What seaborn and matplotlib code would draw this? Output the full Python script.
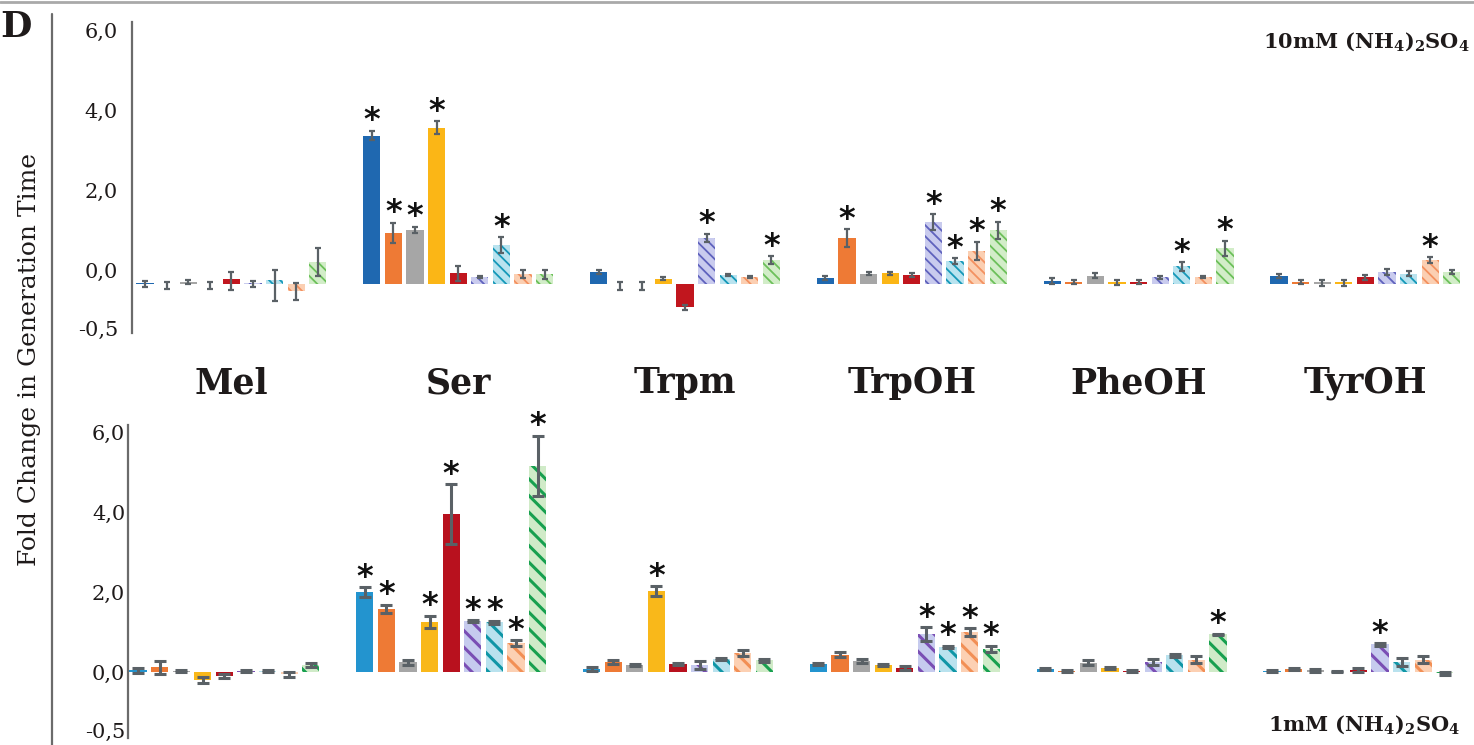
import numpy as np
import pandas as pd
import matplotlib
matplotlib.use("Agg")
import matplotlib.pyplot as plt
import seaborn as sns
from matplotlib.lines import Line2D
from matplotlib.transforms import blended_transform_factory

# ---------------------------------------------------------------- data
groups = ["Mel", "Ser", "Trpm", "TrpOH", "PheOH", "TyrOH"]
series = ["S1", "S2", "S3", "S4", "S5", "S6", "S7", "S8", "S9"]
ytick_values = [6.0, 4.0, 2.0, 0.0, -0.5]
ytick_labels = ["6,0", "4,0", "2,0", "0,0", "-0,5"]

# 10 mM (NH4)2SO4 : mean fold change, error and significance per group
top_means = [
    [0.02, 0.01, 0.05, 0.01, 0.12, 0.02, 0.10, -0.06, 0.56],
    [3.71, 1.28, 1.35, 3.91, 0.27, 0.18, 0.97, 0.24, 0.24],
    [0.30, 0.00, 0.00, 0.13, -0.20, 1.16, 0.22, 0.18, 0.60],
    [0.15, 1.15, 0.26, 0.27, 0.23, 1.55, 0.57, 0.83, 1.34],
    [0.07, 0.05, 0.21, 0.04, 0.05, 0.17, 0.44, 0.18, 0.89],
    [0.20, 0.05, 0.04, 0.04, 0.17, 0.30, 0.26, 0.60, 0.30],
]
top_errs = [
    [0.05, 0.05, 0.05, 0.05, 0.17, 0.05, 0.25, 0.08, 0.35],
    [0.12, 0.25, 0.08, 0.16, 0.19, 0.03, 0.20, 0.10, 0.11],
    [0.05, 0.05, 0.05, 0.04, 0.02, 0.10, 0.03, 0.03, 0.10],
    [0.04, 0.22, 0.04, 0.04, 0.05, 0.20, 0.075, 0.23, 0.22],
    [0.07, 0.05, 0.07, 0.05, 0.05, 0.04, 0.11, 0.03, 0.19],
    [0.04, 0.05, 0.06, 0.06, 0.06, 0.08, 0.06, 0.07, 0.04],
]
top_stars = [
    [0, 0, 0, 0, 0, 0, 0, 0, 0],
    [1, 1, 1, 1, 0, 0, 1, 0, 0],
    [0, 0, 0, 0, 0, 1, 0, 0, 1],
    [0, 1, 0, 0, 0, 1, 1, 1, 1],
    [0, 0, 0, 0, 0, 0, 1, 0, 1],
    [0, 0, 0, 0, 0, 0, 0, 1, 0],
]

# 1 mM (NH4)2SO4
bottom_means = [
    [0.04, 0.13, 0.02, -0.07, -0.035, 0.02, 0.02, -0.02, 0.17],
    [2.00, 1.58, 0.24, 1.26, 3.94, 1.27, 1.24, 0.72, 5.15],
    [0.07, 0.26, 0.17, 2.02, 0.20, 0.18, 0.33, 0.48, 0.29],
    [0.20, 0.43, 0.27, 0.17, 0.10, 0.95, 0.63, 1.00, 0.58],
    [0.08, 0.02, 0.23, 0.10, 0.03, 0.25, 0.42, 0.31, 0.94],
    [0.03, 0.08, 0.04, 0.01, 0.05, 0.69, 0.26, 0.31, -0.01],
]
bottom_errs = [
    [0.05, 0.15, 0.02, 0.025, 0.02, 0.02, 0.02, 0.02, 0.05],
    [0.12, 0.10, 0.07, 0.15, 0.75, 0.02, 0.04, 0.08, 0.76],
    [0.05, 0.05, 0.03, 0.12, 0.03, 0.10, 0.03, 0.07, 0.03],
    [0.03, 0.06, 0.05, 0.02, 0.04, 0.17, 0.03, 0.10, 0.08],
    [0.03, 0.02, 0.06, 0.03, 0.02, 0.08, 0.04, 0.09, 0.02],
    [0.02, 0.03, 0.04, 0.01, 0.05, 0.03, 0.10, 0.09, 0.02],
]
bottom_stars = [
    [0, 0, 0, 0, 0, 0, 0, 0, 0],
    [1, 1, 0, 1, 1, 1, 1, 1, 1],
    [0, 0, 0, 1, 0, 0, 0, 0, 0],
    [0, 0, 0, 0, 0, 1, 1, 1, 1],
    [0, 0, 0, 0, 0, 0, 0, 0, 1],
    [0, 0, 0, 0, 0, 1, 0, 0, 0],
]

# ---------------------------------------------------------------- styles
top_fill = ["#1f68b0", "#ee7a35", "#a6a6a6", "#fbb616", "#c1161e",
            "#c9cbee", "#b9e3ef", "#fbcfb2", "#d2edc8"]
top_stripe = [None, None, None, None, None,
              "#5f62bd", "#1598b8", "#f39160", "#6cc05a"]
bottom_fill = ["#2394cf", "#ee7a35", "#a6a6a6", "#f9b81a", "#b8111e",
               "#c6cbee", "#b9e2ee", "#fcd0b3", "#d0ebc8"]
bottom_stripe = [None, None, None, None, None,
                 "#7a4eb4", "#0f96a6", "#f28f55", "#17a04f"]

W, H = 1474, 745
GROUP_STEP = 10.5
NEG_STRETCH = 2.9
ERR_COLOR = "#5a6166"
SPINE_COLOR = "#6b6b6b"
TEXT_COLOR = "#1e1a1a"

sns.set_style("white")
plt.rcParams["font.family"] = ["DejaVu Serif"]
plt.rcParams["mathtext.fontset"] = "dejavuserif"


def fwd(y):
    y = np.asarray(y, dtype=float)
    return np.where(y >= 0, y, y * NEG_STRETCH)


def inv(y):
    y = np.asarray(y, dtype=float)
    return np.where(y >= 0, y, y / NEG_STRETCH)


def box(left, top, right, bottom):
    return [left / W, 1 - bottom / H, (right - left) / W, (bottom - top) / H]


def style_y_axis(ax, ylim, pad):
    ax.set_yscale("function", functions=(fwd, inv))
    ax.set_ylim(*ylim)
    ax.set_yticks(ytick_values)
    ax.set_yticklabels(ytick_labels)
    ax.tick_params(axis="y", length=0, pad=pad, labelsize=15, labelcolor=TEXT_COLOR)
    ax.set_xticks([])
    for side in ["top", "right", "bottom"]:
        ax.spines[side].set_visible(False)
    ax.spines["left"].set_color(SPINE_COLOR)
    ax.spines["left"].set_linewidth(1.6)
    ax.set_facecolor("none")


def draw_bars(ax, means, errs, stars, fills, stripes, hatch, hatch_lw,
              err_lw, capsize, xlim, ylim):
    rows = []
    for gi, g in enumerate(groups):
        for si, s in enumerate(series):
            rows.append(dict(group=g, series=s, pos=gi * GROUP_STEP + si,
                             value=means[gi][si], err=errs[gi][si],
                             star=stars[gi][si]))
    df = pd.DataFrame(rows)
    palette = dict(zip(series, fills))
    sns.barplot(data=df, x="pos", y="value", hue="series", hue_order=series,
                palette=palette, native_scale=True, dodge=False, width=0.8,
                errorbar=None, saturation=1, legend=False, linewidth=0, ax=ax)

    for p in ax.patches:
        cx = p.get_x() + p.get_width() / 2
        gi = int(cx // GROUP_STEP)
        si = int(round(cx - gi * GROUP_STEP))
        if stripes[si] is not None:
            p.set_edgecolor(stripes[si])
            p.set_linewidth(0)
            p.set_hatch(hatch)
            if hasattr(p, "set_hatch_linewidth"):
                p.set_hatch_linewidth(hatch_lw)

    ax.errorbar(df["pos"], df["value"], yerr=df["err"], fmt="none",
                ecolor=ERR_COLOR, elinewidth=err_lw, capsize=capsize,
                capthick=err_lw, zorder=4)

    for _, r in df[df["star"] == 1].iterrows():
        ax.annotate("*", xy=(r["pos"], r["value"] + r["err"]),
                    xytext=(0, 1.0), textcoords="offset points",
                    ha="center", va="baseline", fontsize=23,
                    fontweight="bold", family="DejaVu Sans",
                    color="#111111", zorder=5, annotation_clip=False)

    ax.set_yscale("function", functions=(fwd, inv))
    ax.set_xlim(*xlim)
    ax.set_ylim(*ylim)
    ax.set_xlabel("")
    ax.set_ylabel("")
    ax.set_xticks([])
    ax.set_yticks([])
    for side in ["top", "right", "bottom", "left"]:
        ax.spines[side].set_visible(False)
    ax.set_facecolor("none")
    return df


fig = plt.figure(figsize=(W / 100, H / 100), dpi=100)

# ---------------------------------------------------------------- top panel
top_ylim = (-0.543, 6.2)
top_xlim = ((132 - 145) / 21.6, (1470 - 145) / 21.6)
plt.rcParams["hatch.linewidth"] = 1.3
ax_top = fig.add_axes(box(132, 36, 1470, 347))
draw_bars(ax_top, top_means, top_errs, top_stars, top_fill, top_stripe,
          "\\\\\\", 1.3, 1.6, 2.5, top_xlim, top_ylim)
ax_top_axis = fig.add_axes(box(132, 22, 1470, 333))
ax_top_axis.patch.set_visible(False)
style_y_axis(ax_top_axis, top_ylim, pad=10)
ax_top_axis.set_zorder(-1)

# ---------------------------------------------------------------- bottom panel
bot_ylim = (-0.569, 6.175)
bot_xlim = ((128 - 138) / 21.6, (1470 - 138) / 21.6)
plt.rcParams["hatch.linewidth"] = 2.2
ax_bot = fig.add_axes(box(128, 425, 1470, 738))
draw_bars(ax_bot, bottom_means, bottom_errs, bottom_stars, bottom_fill,
          bottom_stripe, "\\\\", 2.2, 2.2, 4, bot_xlim, bot_ylim)
style_y_axis(ax_bot, bot_ylim, pad=2)
ax_bot.spines["left"].set_visible(True)

# ---------------------------------------------------------------- labels
label_tr = blended_transform_factory(ax_top.transData, fig.transFigure)
for gi, g in enumerate(groups):
    ax_top.text(gi * GROUP_STEP + 4, 1 - 383 / H, g, transform=label_tr,
                ha="center", va="center", fontsize=25, fontweight="bold",
                color=TEXT_COLOR, clip_on=False)

fig.text(1470 / W, 1 - 42 / H, r"10mM (NH$_\mathbf{4}$)$_\mathbf{2}$SO$_\mathbf{4}$",
         ha="right", va="center", fontsize=15, fontweight="bold", color=TEXT_COLOR)
fig.text(1460 / W, 1 - 725 / H, r"1mM (NH$_\mathbf{4}$)$_\mathbf{2}$SO$_\mathbf{4}$",
         ha="right", va="center", fontsize=15, fontweight="bold", color=TEXT_COLOR)

fig.text(30 / W, 1 - 360 / H, "Fold Change in Generation Time", rotation=90,
         ha="center", va="center", fontsize=18, color=TEXT_COLOR)
fig.text(0.0, 1 - 10 / H, "D", ha="left", va="top", fontsize=26,
         fontweight="bold", color=TEXT_COLOR)

# frame lines of the figure
fig.add_artist(Line2D([0, 1], [1 - 2 / H, 1 - 2 / H], transform=fig.transFigure,
                      color="#a9a9a9", linewidth=2))
fig.add_artist(Line2D([52 / W, 52 / W], [1 - 14 / H, 0], transform=fig.transFigure,
                      color=SPINE_COLOR, linewidth=1.6))

fig.savefig("out.png", dpi=100)
